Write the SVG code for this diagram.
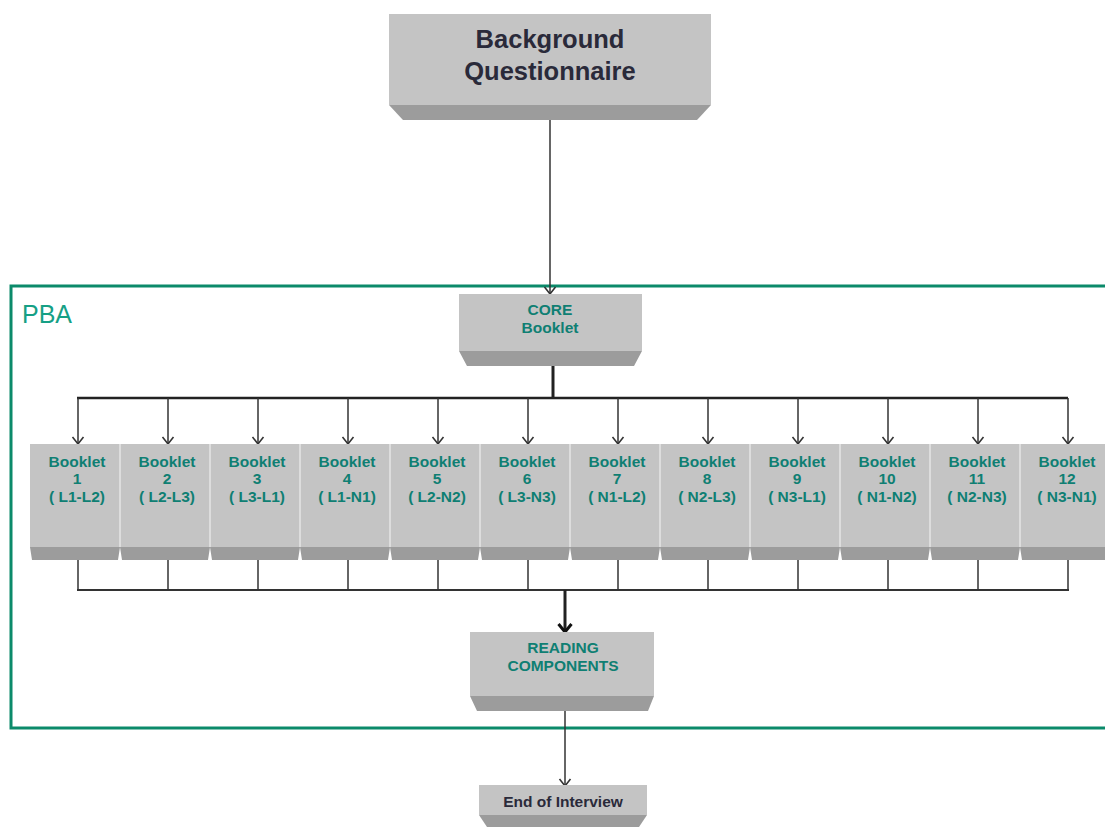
<svg xmlns="http://www.w3.org/2000/svg" width="1105" height="827" viewBox="0 0 1105 827">
<style>
.face{fill:#c4c4c4}
.bev{fill:#9c9c9c}
.sep{stroke:#e6e6e6;stroke-width:1.5}
.t{font-family:"Liberation Sans",Arial,sans-serif;font-weight:bold;text-anchor:middle}
.teal{fill:#0f7f73;font-size:15.5px}
.dark{fill:#2a2a3a}
.ln{stroke:#333;stroke-width:1.5;fill:none}
.lnb{stroke:#222;stroke-width:3;fill:none}
</style>
<defs>
<marker id="v" markerWidth="14" markerHeight="12" refX="7" refY="10" markerUnits="userSpaceOnUse" viewBox="0 0 14 12">
<path d="M1.5,3 L7,10 L12.5,3" fill="none" stroke="#333" stroke-width="1.6"/>
</marker>
<marker id="vb" markerWidth="16" markerHeight="12" refX="8" refY="11" markerUnits="userSpaceOnUse" viewBox="0 0 16 12">
<path d="M1.5,2 L8,10 L14.5,2" fill="none" stroke="#111" stroke-width="3"/>
</marker>
</defs>
<rect width="1105" height="827" fill="#fff"/>
<g id="pba">
<rect x="11" y="286" width="1100" height="442" fill="none" stroke="#0b8a6a" stroke-width="3"/>
<text x="22" y="323" font-family="Liberation Sans,Arial,sans-serif" font-size="25" fill="#16a085">PBA</text>
</g>
<g id="connectors">
<line class="ln" x1="550" y1="105" x2="550" y2="294" marker-end="url(#v)"/>
<polyline class="lnb" points="553,351 553,398"/>
<line x1="77" y1="398" x2="1068" y2="398" stroke="#222" stroke-width="2.5"/>
<g class="ln" marker-end="url(#v)">
<line x1="78" y1="398" x2="78" y2="444"/>
<line x1="168" y1="398" x2="168" y2="444"/>
<line x1="258" y1="398" x2="258" y2="444"/>
<line x1="348" y1="398" x2="348" y2="444"/>
<line x1="438" y1="398" x2="438" y2="444"/>
<line x1="528" y1="398" x2="528" y2="444"/>
<line x1="618" y1="398" x2="618" y2="444"/>
<line x1="708" y1="398" x2="708" y2="444"/>
<line x1="798" y1="398" x2="798" y2="444"/>
<line x1="888" y1="398" x2="888" y2="444"/>
<line x1="978" y1="398" x2="978" y2="444"/>
<line x1="1068" y1="398" x2="1068" y2="444"/>
</g>
<g class="ln">
<line x1="78" y1="547" x2="78" y2="590"/>
<line x1="168" y1="547" x2="168" y2="590"/>
<line x1="258" y1="547" x2="258" y2="590"/>
<line x1="348" y1="547" x2="348" y2="590"/>
<line x1="438" y1="547" x2="438" y2="590"/>
<line x1="528" y1="547" x2="528" y2="590"/>
<line x1="618" y1="547" x2="618" y2="590"/>
<line x1="708" y1="547" x2="708" y2="590"/>
<line x1="798" y1="547" x2="798" y2="590"/>
<line x1="888" y1="547" x2="888" y2="590"/>
<line x1="978" y1="547" x2="978" y2="590"/>
<line x1="1068" y1="547" x2="1068" y2="590"/>
<line x1="77" y1="590" x2="1069" y2="590" stroke-width="2"/>
</g>
<line class="lnb" x1="565" y1="590" x2="565" y2="633" marker-end="url(#vb)"/>
<line class="ln" x1="565" y1="696" x2="565" y2="786" stroke-width="1.2" marker-end="url(#v)"/>
</g>
<g id="bq">
<polygon class="bev" points="389,105 711,105 697,120 403,120"/>
<rect class="face" x="389" y="14" width="322" height="91"/>
<text class="t dark" x="550" y="48" font-size="25.5">Background</text>
<text class="t dark" x="550" y="80" font-size="25.5">Questionnaire</text>
</g>
<g id="core">
<polygon class="bev" points="459,351 642,351 634,366 467,366"/>
<rect class="face" x="459" y="294" width="183" height="57"/>
<text class="t teal" x="550" y="315">CORE</text>
<text class="t teal" x="550" y="333">Booklet</text>
</g>
<g id="booklets">
<g id="b1"><polygon class="bev" points="30,547 120,547 118,560 32,560"/><rect class="face" x="30" y="444" width="90" height="103"/><text class="t teal" x="77" y="467">Booklet</text><text class="t teal" x="77" y="484">1</text><text class="t teal" x="77" y="502">( L1-L2)</text></g>
<g id="b2"><polygon class="bev" points="120,547 210,547 208,560 122,560"/><rect class="face" x="120" y="444" width="90" height="103"/><text class="t teal" x="167" y="467">Booklet</text><text class="t teal" x="167" y="484">2</text><text class="t teal" x="167" y="502">( L2-L3)</text></g>
<g id="b3"><polygon class="bev" points="210,547 300,547 298,560 212,560"/><rect class="face" x="210" y="444" width="90" height="103"/><text class="t teal" x="257" y="467">Booklet</text><text class="t teal" x="257" y="484">3</text><text class="t teal" x="257" y="502">( L3-L1)</text></g>
<g id="b4"><polygon class="bev" points="300,547 390,547 388,560 302,560"/><rect class="face" x="300" y="444" width="90" height="103"/><text class="t teal" x="347" y="467">Booklet</text><text class="t teal" x="347" y="484">4</text><text class="t teal" x="347" y="502">( L1-N1)</text></g>
<g id="b5"><polygon class="bev" points="390,547 480,547 478,560 392,560"/><rect class="face" x="390" y="444" width="90" height="103"/><text class="t teal" x="437" y="467">Booklet</text><text class="t teal" x="437" y="484">5</text><text class="t teal" x="437" y="502">( L2-N2)</text></g>
<g id="b6"><polygon class="bev" points="480,547 570,547 568,560 482,560"/><rect class="face" x="480" y="444" width="90" height="103"/><text class="t teal" x="527" y="467">Booklet</text><text class="t teal" x="527" y="484">6</text><text class="t teal" x="527" y="502">( L3-N3)</text></g>
<g id="b7"><polygon class="bev" points="570,547 660,547 658,560 572,560"/><rect class="face" x="570" y="444" width="90" height="103"/><text class="t teal" x="617" y="467">Booklet</text><text class="t teal" x="617" y="484">7</text><text class="t teal" x="617" y="502">( N1-L2)</text></g>
<g id="b8"><polygon class="bev" points="660,547 750,547 748,560 662,560"/><rect class="face" x="660" y="444" width="90" height="103"/><text class="t teal" x="707" y="467">Booklet</text><text class="t teal" x="707" y="484">8</text><text class="t teal" x="707" y="502">( N2-L3)</text></g>
<g id="b9"><polygon class="bev" points="750,547 840,547 838,560 752,560"/><rect class="face" x="750" y="444" width="90" height="103"/><text class="t teal" x="797" y="467">Booklet</text><text class="t teal" x="797" y="484">9</text><text class="t teal" x="797" y="502">( N3-L1)</text></g>
<g id="b10"><polygon class="bev" points="840,547 930,547 928,560 842,560"/><rect class="face" x="840" y="444" width="90" height="103"/><text class="t teal" x="887" y="467">Booklet</text><text class="t teal" x="887" y="484">10</text><text class="t teal" x="887" y="502">( N1-N2)</text></g>
<g id="b11"><polygon class="bev" points="930,547 1020,547 1018,560 932,560"/><rect class="face" x="930" y="444" width="90" height="103"/><text class="t teal" x="977" y="467">Booklet</text><text class="t teal" x="977" y="484">11</text><text class="t teal" x="977" y="502">( N2-N3)</text></g>
<g id="b12"><polygon class="bev" points="1020,547 1110,547 1108,560 1022,560"/><rect class="face" x="1020" y="444" width="90" height="103"/><text class="t teal" x="1067" y="467">Booklet</text><text class="t teal" x="1067" y="484">12</text><text class="t teal" x="1067" y="502">( N3-N1)</text></g>
<g class="sep">
<line x1="120" y1="444" x2="120" y2="547"/><line x1="210" y1="444" x2="210" y2="547"/><line x1="300" y1="444" x2="300" y2="547"/><line x1="390" y1="444" x2="390" y2="547"/><line x1="480" y1="444" x2="480" y2="547"/><line x1="570" y1="444" x2="570" y2="547"/><line x1="660" y1="444" x2="660" y2="547"/><line x1="750" y1="444" x2="750" y2="547"/><line x1="840" y1="444" x2="840" y2="547"/><line x1="930" y1="444" x2="930" y2="547"/><line x1="1020" y1="444" x2="1020" y2="547"/>
</g>
</g>
<g id="reading">
<polygon class="bev" points="470,696 654,696 648,711 477,711"/>
<rect class="face" x="470" y="632" width="184" height="64"/>
<text class="t teal" x="563" y="653" font-size="16">READING</text>
<text class="t teal" x="563" y="671" font-size="16">COMPONENTS</text>
</g>
<g id="end">
<polygon class="bev" points="479,815 647,815 637,830 489,830"/>
<rect class="face" x="479" y="785" width="168" height="30"/>
<text class="t dark" x="563" y="807" font-size="15.5">End of Interview</text>
</g>
</svg>
